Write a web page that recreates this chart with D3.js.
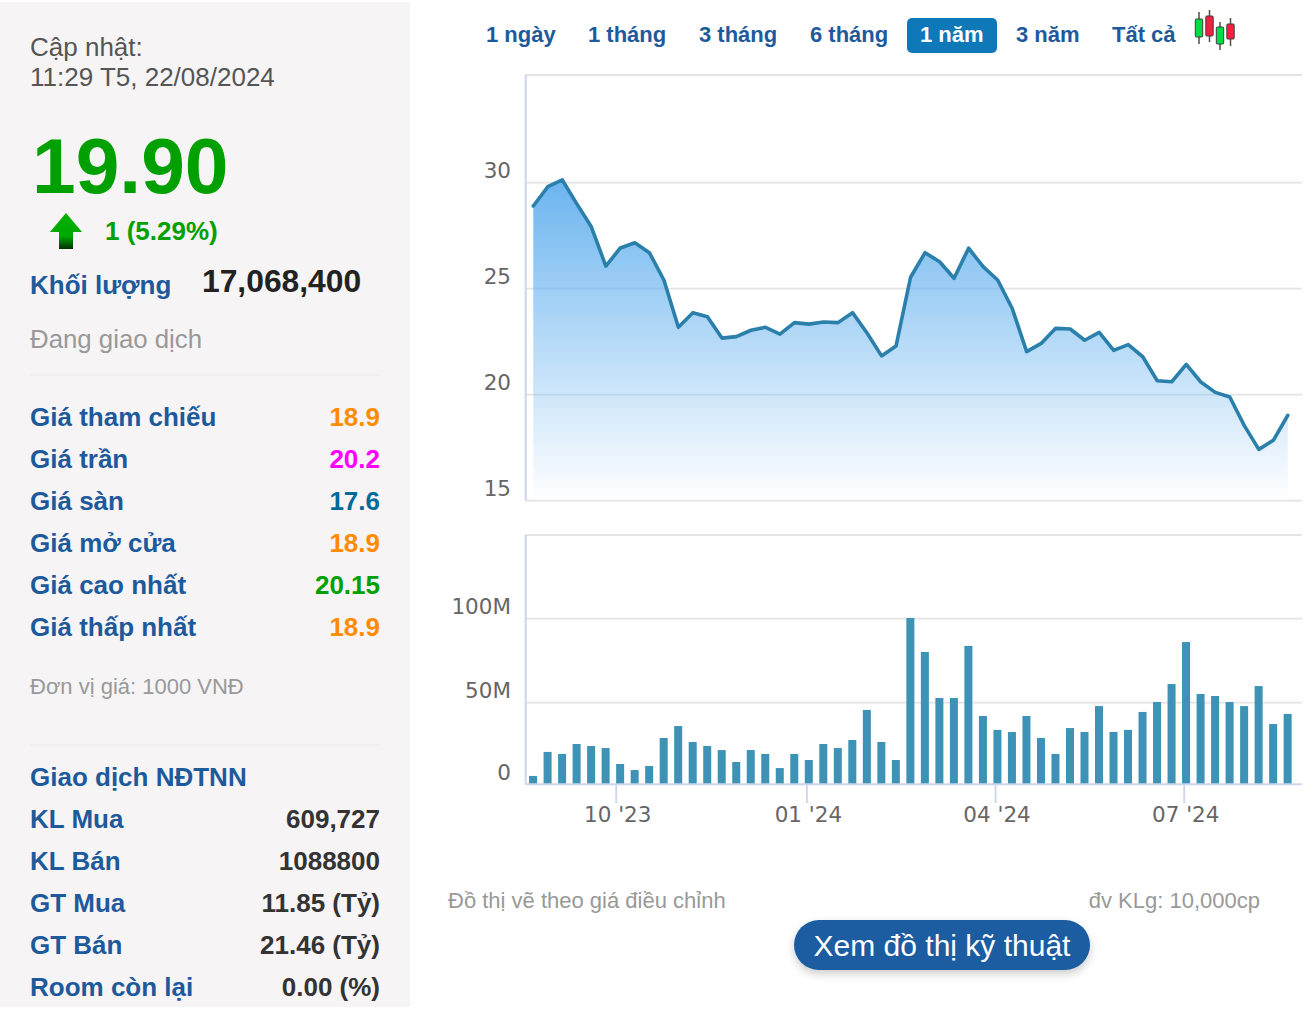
<!DOCTYPE html>
<html>
<head>
<meta charset="utf-8">
<script src="https://d3js.org/d3.v7.min.js"></script>
<style>
  html, body { margin: 0; padding: 0; background: #fff; }
  svg { display: block; }
  text { font-family: "Liberation Sans", Arial, sans-serif; }
  .axis-label { font-family: "DejaVu Sans", Verdana, sans-serif; font-size: 21.5px; fill: #666; }
</style>
</head>
<body>
<svg id="chart"></svg>
<script>
const width = 1314;
const height = 1014;

const svg = d3.select("#chart")
  .attr("width", width)
  .attr("height", height);

/* ---------------------------
Data
--------------------------- */

const weeks = [
  "2023-08-22", "2023-08-29", "2023-09-05", "2023-09-12", "2023-09-19", "2023-09-26",
  "2023-10-03", "2023-10-10", "2023-10-17", "2023-10-24", "2023-10-31", "2023-11-07",
  "2023-11-14", "2023-11-21", "2023-11-28", "2023-12-05", "2023-12-12", "2023-12-19",
  "2023-12-26", "2024-01-02", "2024-01-09", "2024-01-16", "2024-01-23", "2024-01-30",
  "2024-02-06", "2024-02-13", "2024-02-20", "2024-02-27", "2024-03-05", "2024-03-12",
  "2024-03-19", "2024-03-26", "2024-04-02", "2024-04-09", "2024-04-16", "2024-04-23",
  "2024-04-30", "2024-05-07", "2024-05-14", "2024-05-21", "2024-05-28", "2024-06-04",
  "2024-06-11", "2024-06-18", "2024-06-25", "2024-07-02", "2024-07-09", "2024-07-16",
  "2024-07-23", "2024-07-30", "2024-08-06", "2024-08-13", "2024-08-20"
];

const prices = [
  28.90, 29.81, 30.13, 29.00, 27.92, 26.07, 26.92, 27.17, 26.70, 25.41, 23.18,
  23.87, 23.68, 22.67, 22.74, 23.04, 23.18, 22.86, 23.40, 23.33, 23.43, 23.40,
  23.87, 22.91, 21.83, 22.30, 25.54, 26.70, 26.27, 25.49, 26.91, 26.04, 25.41,
  24.08, 22.03, 22.42, 23.13, 23.10, 22.57, 22.94, 22.09, 22.36, 21.79, 20.66,
  20.61, 21.43, 20.60, 20.11, 19.89, 18.54, 17.42, 17.85, 19.03
];

// millions of shares
const volumes = [
  6.4, 20.7, 19.5, 25.4, 24.2, 23.0, 13.5, 9.9, 12.3, 29.0, 36.1, 26.6, 24.2,
  21.8, 14.7, 21.8, 19.5, 11.1, 19.5, 15.9, 25.4, 23.0, 27.8, 45.7, 26.6, 15.9,
  100.4, 80.2, 52.8, 52.8, 83.8, 42.1, 33.8, 32.6, 42.1, 29.0, 19.5, 34.9, 32.6,
  48.0, 32.6, 33.8, 44.5, 50.4, 61.1, 86.1, 55.2, 54.0, 50.4, 48.0, 59.9, 37.3, 43.3
];

const priceTicks = [15, 20, 25, 30];
const volumeTicks = [0, 50, 100];
const monthTicks = ["2023-10-01", "2024-01-01", "2024-04-01", "2024-07-01"];
const monthLabels = ["10 '23", "01 '24", "04 '24", "07 '24"];

const ranges = ["1 ngày", "1 tháng", "3 tháng", "6 tháng", "1 năm", "3 năm", "Tất cả"];
const activeRange = "1 năm";

const priceRows = ["Giá tham chiếu", "Giá trần", "Giá sàn", "Giá mở cửa", "Giá cao nhất", "Giá thấp nhất"];
const priceRowValues = ["18.9", "20.2", "17.6", "18.9", "20.15", "18.9"];
const priceRowColors = ["#ff8c00", "#ff00ff", "#006b9a", "#ff8c00", "#00a000", "#ff8c00"];

const foreignRows = ["KL Mua", "KL Bán", "GT Mua", "GT Bán", "Room còn lại"];
const foreignValues = ["609,727", "1088800", "11.85 (Tỷ)", "21.46 (Tỷ)", "0.00 (%)"];

/* ---------------------------
Scales
--------------------------- */

const parseDay = d3.utcParse("%Y-%m-%d");
const dates = weeks.map(parseDay);

const plotLeft = 525.7;
const plotRight = 1302;

const x = d3.scaleUtc()
  .domain([parseDay("2023-10-01"), parseDay("2024-07-01")])
  .range([616.2, 1184.2]);

const yPrice = d3.scaleLinear().domain([15, 30]).range([500.7, 182.7]);
const yVolume = d3.scaleLinear().domain([0, 100]).range([786.7, 618.7]);
const volumeBase = 784.3;

/* ---------------------------
Left panel
--------------------------- */

const blue = "#1d5a9c";

svg.append("rect")
  .attr("x", 0).attr("y", 2)
  .attr("width", 410).attr("height", 1005)
  .attr("fill", "#f6f4f5");

function label(txt, px, py, size, color, bold, anchor) {
  return svg.append("text")
    .attr("x", px)
    .attr("y", py)
    .attr("font-size", size)
    .attr("fill", color)
    .attr("font-weight", bold ? "bold" : "normal")
    .attr("text-anchor", anchor || "start")
    .text(txt);
}

label("Cập nhật:", 30, 56, 26, "#555");
label("11:29 T5, 22/08/2024", 30, 86, 26, "#555");
label("19.90", 32, 193, 78.5, "#00a000", true);
label("1 (5.29%)", 105, 240, 26, "#00a000", true);
label("Khối lượng", 30, 294, 26, blue, true);
label("17,068,400", 202, 292, 31.8, "#222", true);
label("Đang giao dịch", 30, 348, 25.8, "#999");

const arrowGrad = svg.append("defs").append("linearGradient")
  .attr("id", "arrowGrad")
  .attr("x1", 0).attr("y1", 0).attr("x2", 0).attr("y2", 1);
arrowGrad.append("stop").attr("offset", "0%").attr("stop-color", "#00b000");
arrowGrad.append("stop").attr("offset", "65%").attr("stop-color", "#00a800");
arrowGrad.append("stop").attr("offset", "100%").attr("stop-color", "#003000");

svg.append("path")
  .attr("d", "M66,213 L82,232 L73,232 L73,249 L59,249 L59,232 L50,232 Z")
  .attr("fill", "url(#arrowGrad)");

svg.selectAll(".sep")
  .data([375, 745])
  .enter()
  .append("line")
  .attr("class", "sep")
  .attr("x1", 30).attr("x2", 380)
  .attr("y1", d => d).attr("y2", d => d)
  .attr("stroke", "#eeeced")
  .attr("stroke-width", 1.5);

priceRows.forEach((name, i) => {
  const py = 426 + i * 42;
  label(name, 30, py, 26, blue, true);
  label(priceRowValues[i], 380, py, 26, priceRowColors[i], true, "end");
});

label("Đơn vị giá: 1000 VNĐ", 30, 694, 22, "#999");
label("Giao dịch NĐTNN", 30, 786, 26, blue, true);

foreignRows.forEach((name, i) => {
  const py = 828 + i * 42;
  label(name, 30, py, 26, blue, true);
  label(foreignValues[i], 380, py, 26, "#333", true, "end");
});

/* ---------------------------
Range buttons
--------------------------- */

const rangeX = [486, 588, 699, 810, 920, 1016, 1112];

svg.append("rect")
  .attr("x", 907).attr("y", 18)
  .attr("width", 90).attr("height", 35)
  .attr("rx", 5)
  .attr("fill", "#0f78b8");

svg.selectAll(".range")
  .data(ranges)
  .enter()
  .append("text")
  .attr("class", "range")
  .attr("x", (d, i) => rangeX[i])
  .attr("y", 42)
  .attr("font-size", 22)
  .attr("font-weight", "bold")
  .attr("fill", d => d === activeRange ? "#fff" : blue)
  .text(d => d);

// candlestick icon
const candles = [
  { x: 1199, wick: [12, 44], body: [19, 37], fill: "#00dc46" },
  { x: 1209.5, wick: [10, 42], body: [16, 36], fill: "#f5203f" },
  { x: 1220, wick: [22, 50], body: [27, 44], fill: "#00dc46" },
  { x: 1230.5, wick: [18, 46], body: [24, 39], fill: "#f5203f" }
];

svg.selectAll(".wick")
  .data(candles)
  .enter()
  .append("line")
  .attr("class", "wick")
  .attr("x1", d => d.x).attr("x2", d => d.x)
  .attr("y1", d => d.wick[0]).attr("y2", d => d.wick[1])
  .attr("stroke", "#5a4a3a")
  .attr("stroke-width", 1.5);

svg.selectAll(".body")
  .data(candles)
  .enter()
  .append("rect")
  .attr("class", "body")
  .attr("x", d => d.x - 3.7)
  .attr("y", d => d.body[0])
  .attr("width", 7.4)
  .attr("height", d => d.body[1] - d.body[0])
  .attr("rx", 1)
  .attr("fill", d => d.fill)
  .attr("stroke", "#3f3f3f")
  .attr("stroke-width", 1);

/* ---------------------------
Price pane
--------------------------- */

const grad = svg.select("defs").append("linearGradient")
  .attr("id", "areaGrad")
  .attr("gradientUnits", "userSpaceOnUse")
  .attr("x1", 0).attr("x2", 0)
  .attr("y1", yPrice(30)).attr("y2", yPrice(15));
grad.append("stop").attr("offset", "0%").attr("stop-color", "#6db5f0");
grad.append("stop").attr("offset", "100%").attr("stop-color", "#6db5f0").attr("stop-opacity", 0);

// top border of the pane, then the gridlines
svg.selectAll(".grid-price")
  .data(priceTicks)
  .enter()
  .append("line")
  .attr("class", "grid-price")
  .attr("x1", plotLeft).attr("x2", plotRight)
  .attr("y1", d => yPrice(d)).attr("y2", d => yPrice(d))
  .attr("stroke", "#e4e4e6")
  .attr("stroke-width", 1.8);

svg.append("line")
  .attr("x1", plotLeft).attr("x2", plotRight)
  .attr("y1", 75).attr("y2", 75)
  .attr("stroke", "#e4e4e6")
  .attr("stroke-width", 1.8);

const area = d3.area()
  .x((d, i) => x(dates[i]))
  .y0(yPrice(15))
  .y1(d => yPrice(d));

const line = d3.line()
  .x((d, i) => x(dates[i]))
  .y(d => yPrice(d));

svg.append("path")
  .datum(prices)
  .attr("d", area)
  .attr("fill", "url(#areaGrad)");

svg.append("path")
  .datum(prices)
  .attr("d", line)
  .attr("fill", "none")
  .attr("stroke", "#2a80aa")
  .attr("stroke-width", 3.6)
  .attr("stroke-linejoin", "round")
  .attr("stroke-linecap", "round");

svg.append("line")
  .attr("x1", plotLeft).attr("x2", plotLeft)
  .attr("y1", 75).attr("y2", 500.7)
  .attr("stroke", "#ccd6eb")
  .attr("stroke-width", 2);

svg.selectAll(".label-price")
  .data(priceTicks)
  .enter()
  .append("text")
  .attr("class", "axis-label label-price")
  .attr("x", 511)
  .attr("y", d => yPrice(d) - 5)
  .attr("text-anchor", "end")
  .text(d => d);

/* ---------------------------
Volume pane
--------------------------- */

svg.selectAll(".grid-volume")
  .data(volumeTicks.filter(d => d > 0))
  .enter()
  .append("line")
  .attr("class", "grid-volume")
  .attr("x1", plotLeft).attr("x2", plotRight)
  .attr("y1", d => yVolume(d)).attr("y2", d => yVolume(d))
  .attr("stroke", "#e4e4e6")
  .attr("stroke-width", 1.8);

svg.append("line")
  .attr("x1", plotLeft).attr("x2", plotRight)
  .attr("y1", 535).attr("y2", 535)
  .attr("stroke", "#e4e4e6")
  .attr("stroke-width", 1.8);

svg.selectAll(".bar")
  .data(volumes)
  .enter()
  .append("rect")
  .attr("class", "bar")
  .attr("x", (d, i) => x(dates[i]) - 4.2)
  .attr("y", d => yVolume(d))
  .attr("width", 8)
  .attr("height", d => volumeBase - yVolume(d))
  .attr("fill", "#3d92b5");

svg.append("line")
  .attr("x1", plotLeft).attr("x2", plotRight)
  .attr("y1", volumeBase).attr("y2", volumeBase)
  .attr("stroke", "#ccd6eb")
  .attr("stroke-width", 2);

svg.append("line")
  .attr("x1", plotLeft).attr("x2", plotLeft)
  .attr("y1", 535).attr("y2", volumeBase)
  .attr("stroke", "#ccd6eb")
  .attr("stroke-width", 2);

svg.selectAll(".label-volume")
  .data(volumeTicks)
  .enter()
  .append("text")
  .attr("class", "axis-label label-volume")
  .attr("x", 511)
  .attr("y", d => yVolume(d) - (d === 0 ? 7 : 5))
  .attr("text-anchor", "end")
  .text(d => d === 0 ? "0" : d + "M");

const monthDates = monthTicks.map(parseDay);

svg.selectAll(".tick-month")
  .data(monthDates)
  .enter()
  .append("line")
  .attr("class", "tick-month")
  .attr("x1", d => x(d)).attr("x2", d => x(d))
  .attr("y1", volumeBase).attr("y2", 803)
  .attr("stroke", "#ccd6eb")
  .attr("stroke-width", 1.8);

svg.selectAll(".label-month")
  .data(monthDates)
  .enter()
  .append("text")
  .attr("class", "axis-label label-month")
  .attr("x", d => x(d) + 1.5)
  .attr("y", 822)
  .attr("text-anchor", "middle")
  .text((d, i) => monthLabels[i]);

/* ---------------------------
Footer
--------------------------- */

label("Đồ thị vẽ theo giá điều chỉnh", 448, 908, 22, "#999");
label("đv KLg: 10,000cp", 1260, 908, 22, "#999", false, "end");

const shadow = svg.select("defs").append("filter")
  .attr("id", "btnShadow")
  .attr("x", "-10%").attr("y", "-20%")
  .attr("width", "120%").attr("height", "160%");
shadow.append("feDropShadow")
  .attr("dx", 0).attr("dy", 4)
  .attr("stdDeviation", 4)
  .attr("flood-color", "#000")
  .attr("flood-opacity", 0.2);

svg.append("rect")
  .attr("x", 794).attr("y", 920)
  .attr("width", 296).attr("height", 50)
  .attr("rx", 25)
  .attr("fill", "#1a5ba1")
  .attr("filter", "url(#btnShadow)");

label("Xem đồ thị kỹ thuật", 942, 956, 30, "#fff", false, "middle");
</script>
</body>
</html>
